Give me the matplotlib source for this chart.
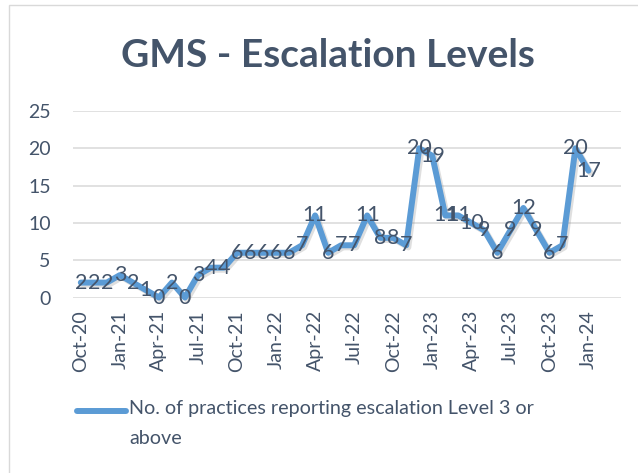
import matplotlib
matplotlib.use('Agg')
import matplotlib.pyplot as plt
import matplotlib.patheffects as pe
from matplotlib.lines import Line2D
from matplotlib.patches import Rectangle

# Monthly data, Oct-20 .. Jan-24
months = ['Oct-20', 'Nov-20', 'Dec-20', 'Jan-21', 'Feb-21', 'Mar-21', 'Apr-21', 'May-21',
          'Jun-21', 'Jul-21', 'Aug-21', 'Sep-21', 'Oct-21', 'Nov-21', 'Dec-21', 'Jan-22',
          'Feb-22', 'Mar-22', 'Apr-22', 'May-22', 'Jun-22', 'Jul-22', 'Aug-22', 'Sep-22',
          'Oct-22', 'Nov-22', 'Dec-22', 'Jan-23', 'Feb-23', 'Mar-23', 'Apr-23', 'May-23',
          'Jun-23', 'Jul-23', 'Aug-23', 'Sep-23', 'Oct-23', 'Nov-23', 'Dec-23', 'Jan-24']
practices = [2, 2, 2, 3, 2, 1, 0, 2, 0, 3, 4, 4, 6, 6, 6, 6, 6, 7, 11, 6,
             7, 7, 11, 8, 8, 7, 20, 19, 11, 11, 10, 9, 6, 9, 12, 9, 6, 7, 20, 17]
series_label = 'No. of practices reporting escalation Level 3 or\nabove'
title = 'GMS - Escalation Levels'

TXT = '#44546A'
LINE = '#5B9BD5'
W, H = 638, 473

plt.rcParams['font.family'] = ['Lato', 'DejaVu Sans']

fig = plt.figure(figsize=(W / 100, H / 100), dpi=100)
fig.patch.set_facecolor('white')

# chart border
fig.add_artist(Rectangle((9 / W, -0.1), 1.2, 1 - 5 / H + 0.1, transform=fig.transFigure,
                         fill=False, edgecolor='#D9D9D9', linewidth=1.0))

ax = fig.add_axes([73 / W, 1 - 297.5 / H, (621 - 73) / W, (297.5 - 111) / H])
x = list(range(len(practices)))
ax.plot(x, practices, color=LINE, linewidth=4.3, solid_joinstyle='round',
        solid_capstyle='round', clip_on=False,
        path_effects=[pe.SimpleLineShadow(offset=(1.5, -1.5), alpha=0.25, shadow_color='gray'),
                      pe.Normal()])

for xi, v in zip(x, practices):
    ax.text(xi, v, str(v), ha='center', va='center', fontsize=15.5, color=TXT)

ax.set_xlim(-0.6, 41.5)
ax.set_ylim(0, 25)
ax.set_yticks(range(0, 26, 5))
ax.set_xticks(x[::3])
ax.set_xticklabels(months[::3], rotation=90)
ax.tick_params(axis='both', length=0, labelsize=14, labelcolor=TXT)
ax.tick_params(axis='y', pad=16)
ax.tick_params(axis='x', pad=9)
ax.grid(axis='y', color='#D9D9D9', linewidth=1.1)
ax.set_axisbelow(True)
for s in ax.spines.values():
    s.set_visible(False)

fig.text(328 / W, 1 - 67 / H, title, ha='center', va='baseline', fontsize=28,
         fontweight='bold', color=TXT)

# legend
fig.add_artist(Line2D([77 / W, 126 / W], [1 - 411 / H, 1 - 411 / H], transform=fig.transFigure,
                      color=LINE, linewidth=4.3, solid_capstyle='round'))
fig.text(129 / W, 1 - 400 / H, series_label, ha='left', va='top', fontsize=14.2,
         color=TXT, linespacing=1.95)

fig.savefig('out.png', dpi=100)
